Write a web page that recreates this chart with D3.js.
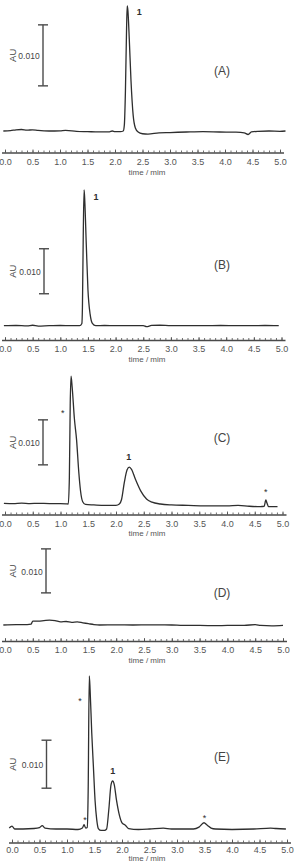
<!DOCTYPE html>
<html><head><meta charset="utf-8">
<script src="https://cdn.jsdelivr.net/npm/d3@7"></script>
<style>html,body{margin:0;padding:0;background:#fff;} svg{display:block;font-family:"Liberation Sans",Arial,sans-serif;}</style>
</head><body><svg id="c" width="296" height="862"></svg>
<script>
// ---------- data ----------
const panelNames = ["(A)", "(B)", "(C)", "(D)", "(E)"];
const majorTicks = [0, 0.5, 1, 1.5, 2, 2.5, 3, 3.5, 4, 4.5, 5];
const minorTicks = [0,0.1,0.2,0.3,0.4,0.5,0.6,0.7,0.8,0.9,1,1.1,1.2,1.3,1.4,1.5,1.6,1.7,1.8,1.9,2,2.1,2.2,2.3,2.4,2.5,2.6,2.7,2.8,2.9,3,3.1,3.2,3.3,3.4,3.5,3.6,3.7,3.8,3.9,4,4.1,4.2,4.3,4.4,4.5,4.6,4.7,4.8,4.9,5];
const axisTitle = "time / mim";
const yLabel = "AU";
const scaleBarValue = 0.010;
const scaleBarLabel = "0.010";
const scaleBarLow = [0.0074, 0.0071, 0.0087, 0.0073, 0.0085];

const timeA = [-0.03,0.1,0.2,0.3,0.4,0.5,0.6,0.8,1.0,1.1,1.3,1.5,1.7,1.9,1.95,2.0,2.1,2.15,2.17,2.19,2.21,2.222,2.235,2.26,2.29,2.33,2.37,2.42,2.5,2.6,2.8,3.0,3.3,3.6,3.9,4.2,4.35,4.42,4.48,4.6,4.8,5.0,5.1];
const absA = [0,0.00005,0.0002,0.00025,0.00013,0.0002,0.0001,0,0.00003,0.0001,-0.00005,-0.0001,-0.00015,-0.00013,0,-0.0001,-0.0001,0,0.001,0.0067,0.0166,0.0205,0.0197,0.015,0.0084,0.0026,0.0005,-0.00016,-0.00045,-0.0005,-0.0003,-0.00025,-0.00016,-0.0001,-0.00016,-0.0002,-0.0003,-0.00057,-0.00016,-0.00005,0,-0.00005,0];

const timeB = [-0.02,0.2,0.4,0.5,0.6,0.8,1.0,1.2,1.35,1.39,1.40,1.415,1.43,1.44,1.47,1.50,1.54,1.58,1.64,1.8,2.0,2.3,2.5,2.56,2.65,2.8,3.0,3.3,3.6,3.9,4.2,4.5,4.7,4.95];
const absB = [0,0.00005,-0.00005,0.0001,-0.0001,0,0.00005,0,0,0.0005,0.004,0.02,0.0302,0.0285,0.018,0.008,0.0025,0.0005,0,0.00005,0,0,0.00003,-0.0002,0.00005,0.0001,0,0.00002,0,0.00005,0,0.00002,0.00005,0];

const timeC = [-0.02,0.15,0.3,0.45,0.6,0.8,1.0,1.1,1.14,1.16,1.175,1.19,1.21,1.25,1.29,1.33,1.36,1.40,1.45,1.6,1.8,2.0,2.06,2.1,2.15,2.2,2.24,2.28,2.35,2.45,2.55,2.65,2.8,3.0,3.3,3.6,4.0,4.2,4.4,4.6,4.67,4.70,4.72,4.75,4.91];
const absC = [0.00015,0.0001,0.0002,0.0001,0.00015,0.0001,0.0001,0.00005,0,0.006,0.022,0.0284,0.026,0.019,0.0142,0.007,0.003,0.0005,-0.0001,-0.0002,-0.0003,-0.0003,0,0.001,0.0048,0.0076,0.0082,0.0077,0.0055,0.0028,0.0011,0.0004,0,-0.0002,-0.0003,-0.0004,-0.0004,-0.0003,-0.0005,-0.0006,-0.0005,0.0009,0.0002,-0.0006,-0.0006];

const timeD = [-0.03,0.2,0.4,0.47,0.5,0.6,0.7,0.8,0.9,1.0,1.1,1.2,1.3,1.4,1.5,1.6,1.7,2.0,2.3,2.6,3.0,3.2,3.5,3.8,4.0,4.3,4.5,4.6,4.8,5.0];
const absD = [0,0.0001,0.0001,0.0002,0.0009,0.0009,0.001,0.0011,0.001,0.0007,0.0008,0.0006,0.0007,0.0005,0.0003,0.0001,0,0.00005,0,0.00003,0,-0.0001,-0.0001,-0.00015,-0.0001,-0.0001,0.0001,-0.0001,-0.0002,-0.0001];

const timeE = [-0.05,0.0,0.05,0.2,0.4,0.5,0.55,0.6,0.8,1.0,1.2,1.28,1.31,1.34,1.37,1.385,1.405,1.42,1.45,1.48,1.51,1.54,1.57,1.62,1.68,1.72,1.76,1.8,1.83,1.86,1.9,1.95,2.0,2.06,2.12,2.3,2.5,2.75,2.9,3.1,3.3,3.4,3.49,3.55,3.62,3.7,4.0,4.4,4.7,4.8,4.98];
const absE = [0.0002,0.0006,0,0,0.0001,0.0003,0.0007,0.0002,0,0,-0.0001,0.0002,0.0009,0.0002,0.0003,0.008,0.0319,0.029,0.02,0.013,0.006,0.002,0.0001,-0.0003,-0.0003,0,0.004,0.0092,0.01,0.0092,0.006,0.003,0.0013,0.0008,0.0001,-0.0001,0,0.0002,0,0,0,0.0004,0.0013,0.0008,0.0002,0,-0.0001,0,0.0002,0.0001,0];

const seriesTimes = [timeA, timeB, timeC, timeD, timeE];
const seriesAbs = [absA, absB, absC, absD, absE];

// peak annotations
const annPanel = [0, 1, 2, 2, 2, 4, 4, 4, 4];
const annText  = ["1", "1", "*", "1", "*", "*", "*", "1", "*"];
const annTime  = [2.44, 1.645, 1.04, 2.23, 4.70, 1.236, 1.327, 1.83, 3.50];
const annAbs   = [0.0195, 0.0286, 0.0207, 0.0105, 0.0031, 0.0271, 0.0023, 0.0121, 0.0027];

// ---------- layout (positions only) ----------
const layout = [
  {x0: 5,  x1: 280,   base: 131,   ppu: 6100, axisY: 152.5, barX: 43,   nameY: 71,    titleDy: 19.5, pad: 6},
  {x0: 5,  x1: 281.5, base: 325.7, ppu: 4500, axisY: 340,   barX: 44,   nameY: 265,   titleDy: 19.5, pad: 6},
  {x0: 5,  x1: 282.5, base: 504,   ppu: 4500, axisY: 514.5, barX: 43,   nameY: 438,   titleDy: 19,   pad: 6},
  {x0: 5,  x1: 283,   base: 625,   ppu: 4400, axisY: 641,   barX: 46,   nameY: 592.7, titleDy: 19,   pad: 6},
  {x0: 12, x1: 287,   base: 829,   ppu: 4800, axisY: 842.5, barX: 46.5, nameY: 756.7, titleDy: 16.3, pad: 4.5}
];

const svg = d3.select("#c");
svg.append("rect").attr("width", 296).attr("height", 862).attr("fill", "#fff");
const ink = "#2e2e2e";
const axisInk = "#4a4a4a";
const textInk = "#444";

layout.forEach((L, i) => {
  const x = d3.scaleLinear().domain([0, 5]).range([L.x0, L.x1]);
  const y = d3.scaleLinear().domain([0, 0.01]).range([L.base, L.base - L.ppu * 0.01]);
  const g = svg.append("g");

  // trace
  const pts = d3.zip(seriesTimes[i], seriesAbs[i]);
  g.append("path")
    .datum(pts)
    .attr("fill", "none")
    .attr("stroke", ink)
    .attr("stroke-width", 1.3)
    .attr("stroke-linejoin", "round")
    .attr("d", d3.line().x(d => x(d[0])).y(d => y(d[1])).curve(d3.curveMonotoneX));

  // axis
  const ax = g.append("g").attr("transform", `translate(0,${L.axisY})`);
  ax.append("line")
    .attr("x1", x(0) - 3).attr("x2", x(5) + 4)
    .attr("y1", 0.5).attr("y2", 0.5)
    .attr("stroke", axisInk).attr("stroke-width", 1.4);
  const minor = ax.append("g").call(
    d3.axisBottom(x).tickValues(minorTicks).tickSizeInner(-2).tickSizeOuter(0).tickFormat("")
  );
  minor.select(".domain").remove();
  minor.selectAll(".tick line").attr("stroke", axisInk).attr("stroke-width", 0.8);
  const major = ax.append("g").call(
    d3.axisBottom(x).tickValues(majorTicks).tickSizeInner(-3).tickSizeOuter(0).tickPadding(L.pad).tickFormat(d3.format(".1f"))
  );
  major.select(".domain").remove();
  major.selectAll(".tick line").attr("stroke", axisInk).attr("stroke-width", 0.8);
  major.attr("font-family", null).attr("font-size", null);
  major.selectAll(".tick text")
    .attr("fill", "#555")
    .style("font-family", '"Liberation Sans",Arial,sans-serif')
    .style("font-size", "9px");

  // axis title
  g.append("text")
    .attr("x", 147).attr("y", L.axisY + L.titleDy)
    .attr("text-anchor", "middle").attr("dominant-baseline", "central")
    .attr("fill", "#555").style("font-size", "8px")
    .text(axisTitle);

  // scale bar
  const yb0 = y(scaleBarLow[i]), yb1 = y(scaleBarLow[i] + scaleBarValue);
  const sb = g.append("g").attr("stroke", axisInk).attr("stroke-width", 1.4);
  sb.append("line").attr("x1", L.barX).attr("x2", L.barX).attr("y1", yb0).attr("y2", yb1);
  sb.append("line").attr("x1", L.barX - 5).attr("x2", L.barX + 5).attr("y1", yb0).attr("y2", yb0);
  sb.append("line").attr("x1", L.barX - 5).attr("x2", L.barX + 5).attr("y1", yb1).attr("y2", yb1);
  const mid = (yb0 + yb1) / 2;
  g.append("text")
    .attr("x", L.barX - 14).attr("y", mid + 1)
    .attr("text-anchor", "middle").attr("dominant-baseline", "central")
    .attr("fill", textInk).style("font-size", "8.5px")
    .text(scaleBarLabel);
  g.append("text")
    .attr("transform", `translate(12,${mid}) rotate(-90)`)
    .attr("text-anchor", "middle").attr("dominant-baseline", "central")
    .attr("fill", textInk).style("font-size", "9.5px")
    .text(yLabel);

  // panel name
  g.append("text")
    .attr("x", 222).attr("y", L.nameY)
    .attr("text-anchor", "middle").attr("dominant-baseline", "central")
    .attr("fill", textInk).style("font-size", "12px")
    .text(panelNames[i]);

  // annotations
  annPanel.forEach((p, k) => {
    if (p !== i) return;
    const isStar = annText[k] === "*";
    g.append("text")
      .attr("x", x(annTime[k]))
      .attr("y", y(annAbs[k]) + (isStar ? 5.2 : 3.2))
      .attr("text-anchor", "middle")
      .attr("fill", ink)
      .style("font-size", "9px")
      .style("font-weight", isStar ? "normal" : "bold")
      .text(annText[k]);
  });
});
</script></body></html>
